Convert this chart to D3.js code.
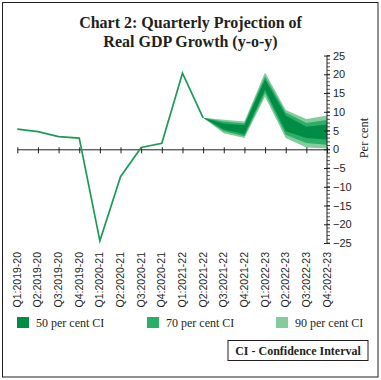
<!DOCTYPE html>
<html><head><meta charset="utf-8">
<script src="https://cdn.jsdelivr.net/npm/d3@7"></script>
<style>body{margin:0;background:#fff;} svg{display:block;}</style>
</head><body>
<script>
const categories = ["Q1:2019-20","Q2:2019-20","Q3:2019-20","Q4:2019-20","Q1:2020-21","Q2:2020-21","Q3:2020-21","Q4:2020-21","Q1:2021-22","Q2:2021-22","Q3:2021-22","Q4:2021-22","Q1:2022-23","Q2:2022-23","Q3:2022-23","Q4:2022-23"];
const actual = [5.4, 4.7, 3.4, 3.0, -24.4, -7.3, 0.5, 1.6, 20.3, 8.4];
const fanCategories = ["Q2:2021-22","Q3:2021-22","Q4:2021-22","Q1:2022-23","Q2:2022-23","Q3:2022-23","Q4:2022-23"];
const ci90Upper = [8.4, 7.9, 7.4, 20.5, 10.5, 8.1, 9.0];
const ci70Upper = [8.4, 7.4, 6.9, 19.5, 9.8, 7.0, 7.8];
const ci50Upper = [8.4, 6.9, 6.4, 18.6, 9.0, 6.0, 6.6];
const ci50Lower = [8.4, 5.3, 4.0, 15.9, 4.8, 3.0, 2.6];
const ci70Lower = [8.4, 4.8, 3.5, 15.0, 3.9, 1.7, 1.2];
const ci90Lower = [8.4, 4.3, 3.0, 14.0, 3.0, 0.5, 0.2];
const yTicks = [25, 20, 15, 10, 5, 0, -5, -10, -15, -20, -25];
const legendLabels = ["50 per cent CI", "70 per cent CI", "90 per cent CI"];
const titleLines = ["Chart 2: Quarterly Projection of", "Real GDP Growth (y-o-y)"];
const yAxisTitle = "Per cent";
const noteText = "CI - Confidence Interval";

const W = 381, H = 380;
const colors = {c50: "#008C45", c70: "#2BAE66", c90: "#84CB9E", line: "#1E9A55", text: "#231F20"};
const serif = "'Liberation Serif', 'Times New Roman', serif";
const sans = "'Liberation Sans', Arial, sans-serif";

const svg = d3.select("body").append("svg").attr("width", W).attr("height", H);
svg.append("rect").attr("x", 2.5).attr("y", 2.5).attr("width", 375.5).attr("height", 374.5)
  .attr("fill", "#fff").attr("stroke", colors.text).attr("stroke-width", 1);

// title
svg.append("g").selectAll("text").data(titleLines).join("text")
  .attr("x", 190.5).attr("y", (d, i) => 28 + i * 18.5)
  .attr("text-anchor", "middle").attr("font-family", serif).attr("font-weight", "bold")
  .attr("font-size", 16).attr("fill", colors.text).text(d => d);

const x = d3.scalePoint().domain(categories).range([17.3, 327]);
const y = d3.scaleLinear().domain([-25, 25]).range([243.05, 55.55]);

// fan bands
const fanRows = fanCategories.map((c, i) => ({c, u90: ci90Upper[i], u70: ci70Upper[i], u50: ci50Upper[i], l50: ci50Lower[i], l70: ci70Lower[i], l90: ci90Lower[i]}));
const area = (lo, hi) => d3.area().x(d => x(d.c)).y0(d => y(d[lo])).y1(d => y(d[hi]));
const g = svg.append("g");
g.append("path").datum(fanRows).attr("d", area("l90", "u90")).attr("fill", colors.c90);
g.append("path").datum(fanRows).attr("d", area("l70", "u70")).attr("fill", colors.c70);
g.append("path").datum(fanRows).attr("d", area("l50", "u50")).attr("fill", colors.c50);

// zero axis
const xAxis = d3.axisBottom(x).tickSize(4).tickSizeOuter(0).tickFormat("");
const xg = svg.append("g").attr("transform", `translate(0,${y(0)})`).call(xAxis);
xg.select(".domain").attr("stroke", colors.text).attr("stroke-width", 1);
xg.selectAll(".tick line").attr("stroke", colors.text).attr("y1", -2);

// actual line
const actualRows = actual.map((v, i) => ({c: categories[i], v}));
svg.append("path").datum(actualRows)
  .attr("d", d3.line().x(d => x(d.c)).y(d => y(d.v)))
  .attr("fill", "none").attr("stroke", colors.line).attr("stroke-width", 1.7).attr("stroke-linejoin", "miter");

// right y axis
const axisX = x(categories[categories.length - 1]);
const minor = d3.range(-25, 26, 1);
const ya = svg.append("g").attr("transform", `translate(${axisX},0)`);
ya.append("line").attr("y1", y(25)).attr("y2", y(-25)).attr("stroke", colors.text);
ya.selectAll("line.minor").data(minor).join("line").attr("class", "minor")
  .attr("x1", 0).attr("x2", 3).attr("y1", d => y(d)).attr("y2", d => y(d)).attr("stroke", colors.text).attr("stroke-width", 0.8);
const yAxis = d3.axisRight(y).tickValues(yTicks).tickSize(3).tickPadding(3).tickFormat(d3.format("d"));
const yg = ya.append("g").call(yAxis);
yg.select(".domain").remove();
yg.selectAll(".tick line").attr("x1", -3).attr("stroke", colors.text);
yg.selectAll(".tick text").attr("font-family", sans).attr("font-size", 11).attr("fill", colors.text);

svg.append("text").attr("transform", `translate(368,${y(3)}) rotate(-90)`)
  .attr("text-anchor", "middle").attr("font-family", serif).attr("font-size", 12.5)
  .attr("fill", colors.text).text(yAxisTitle);

// x labels
svg.append("g").selectAll("text").data(categories).join("text")
  .attr("transform", d => `translate(${x(d) + 3.5},252) rotate(-90)`)
  .attr("text-anchor", "end").attr("font-family", sans).attr("font-size", 10.5)
  .attr("fill", colors.text).text(d => d);

// legend
const legX = [17, 147, 276];
const legC = [colors.c50, colors.c70, colors.c90];
const lg = svg.append("g").selectAll("g").data(legendLabels).join("g")
  .attr("transform", (d, i) => `translate(${legX[i]},317)`);
lg.append("rect").attr("width", 12).attr("height", 11).attr("fill", (d, i) => legC[i]);
lg.append("text").attr("x", 19).attr("y", 10).attr("font-family", serif).attr("font-size", 12)
  .attr("fill", colors.text).text(d => d);

// note box
svg.append("rect").attr("x", 228).attr("y", 340.5).attr("width", 140).attr("height", 20)
  .attr("fill", "#fff").attr("stroke", colors.text).attr("stroke-width", 1);
svg.append("text").attr("x", 298).attr("y", 355).attr("text-anchor", "middle")
  .attr("font-family", serif).attr("font-weight", "bold").attr("font-size", 12)
  .attr("fill", colors.text).text(noteText);
</script>
</body></html>
